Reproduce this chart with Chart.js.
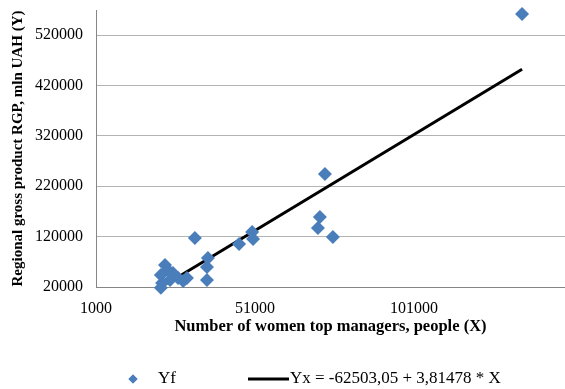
<!DOCTYPE html>
<html><head><meta charset="utf-8">
<script src="https://cdn.jsdelivr.net/npm/chart.js@4/dist/chart.umd.min.js"></script>
<style>html,body{margin:0;padding:0;background:#fff}</style>
</head><body>
<canvas id="c" width="565" height="389"></canvas>
<script>
// Number of women top managers, people (X)
const womenManagers = [135000, 73000, 71400, 70800, 75500, 50100, 50400, 46000, 32100, 36200, 35900, 35900, 29600,
  22700, 21400, 21800, 21400, 25200, 26800, 28400, 23600, 24300];
// Regional gross product RGP, mln UAH (Y)
const regionalGRP = [562300, 244500, 159100, 137300, 119300, 129300, 115400, 105400, 117300, 77600, 59700, 33900, 37900,
  63700, 43800, 27900, 18500, 47800, 37900, 31900, 53800, 33900];
// Trend line end points
const trendX = [23300, 135000];
const trendY = [26400, 452500];
const xTickValues = [1000, 51000, 101000];
const yTickValues = [20000, 120000, 220000, 320000, 420000, 520000];
const seriesNames = ['Yf', 'Yx = -62503,05 + 3,81478 * X'];
const xTitle = 'Number of women top managers, people (X)';
const yTitle = 'Regional gross product RGP, mln UAH (Y)';

const FONT = '"Liberation Serif", "Times New Roman", serif';

const legendPlugin = {
  id: 'customLegend',
  afterDraw(chart) {
    const ctx = chart.ctx;
    const ds = chart.data.datasets;
    const y = 379;
    ctx.save();
    ctx.font = '17px ' + FONT;
    ctx.textBaseline = 'middle';
    Chart.helpers.drawPoint(ctx, {pointStyle: 'rectRot', radius: 4.5, borderWidth: 0}, 133, y);
    ctx.fillStyle = ds[0].backgroundColor;
    ctx.fill();
    ctx.fillStyle = '#000';
    ctx.textAlign = 'left';
    ctx.fillText(ds[0].label, 158, y);
    ctx.strokeStyle = ds[1].borderColor;
    ctx.lineWidth = 3;
    ctx.beginPath(); ctx.moveTo(248, y); ctx.lineTo(289, y); ctx.stroke();
    ctx.fillText(ds[1].label, 290, y);
    ctx.restore();
  }
};

const noEdgePadding = s => { s.paddingTop = 0; s.paddingBottom = 0; s.paddingLeft = 0; s.paddingRight = 0; };

new Chart(document.getElementById('c'), {
  type: 'scatter',
  data: {
    datasets: [
      {
        label: seriesNames[0],
        data: womenManagers.map((x, i) => ({x, y: regionalGRP[i]})),
        backgroundColor: '#4a7ebb',
        borderColor: '#4a7ebb',
        pointStyle: 'rectRot',
        pointRadius: 7,
        borderWidth: 0,
        clip: false
      },
      {
        label: seriesNames[1],
        type: 'line',
        data: trendX.map((x, i) => ({x, y: trendY[i]})),
        borderColor: '#000',
        backgroundColor: '#000',
        borderWidth: 3,
        pointRadius: 0,
        fill: false,
        clip: false
      }
    ]
  },
  options: {
    responsive: false,
    animation: false,
    layout: {autoPadding: false, padding: {left: 0, right: 0, top: 10, bottom: 52}},
    plugins: {legend: {display: false}, tooltip: {enabled: false}},
    scales: {
      x: {
        type: 'linear', min: 1000, max: 148500,
        afterBuildTicks: s => { s.ticks = xTickValues.map(v => ({value: v})); },
        afterFit: s => { s.height = 50; noEdgePadding(s); },
        grid: {display: false, drawTicks: false},
        border: {display: true, color: '#868686', width: 1},
        ticks: {padding: 12, color: '#000', font: {family: FONT, size: 16}, maxRotation: 0, autoSkip: false, callback: v => String(v)},
        title: {display: true, text: xTitle, color: '#000', font: {family: FONT, size: 16.5, weight: 'bold'}, padding: {top: 0, bottom: 0}}
      },
      y: {
        type: 'linear', min: 20000, max: 570000,
        afterBuildTicks: s => { s.ticks = yTickValues.map(v => ({value: v})); },
        afterFit: s => { s.width = 96; noEdgePadding(s); },
        grid: {color: '#b3b3b3', drawTicks: false, lineWidth: 1},
        border: {display: true, color: '#868686', width: 1},
        ticks: {padding: 13, color: '#000', font: {family: FONT, size: 16}, callback: v => String(v)},
        title: {display: true, text: yTitle, color: '#000', font: {family: FONT, size: 15, weight: 'bold'}, padding: {top: 9, bottom: 0}}
      }
    }
  },
  plugins: [legendPlugin]
});
</script>
</body></html>
